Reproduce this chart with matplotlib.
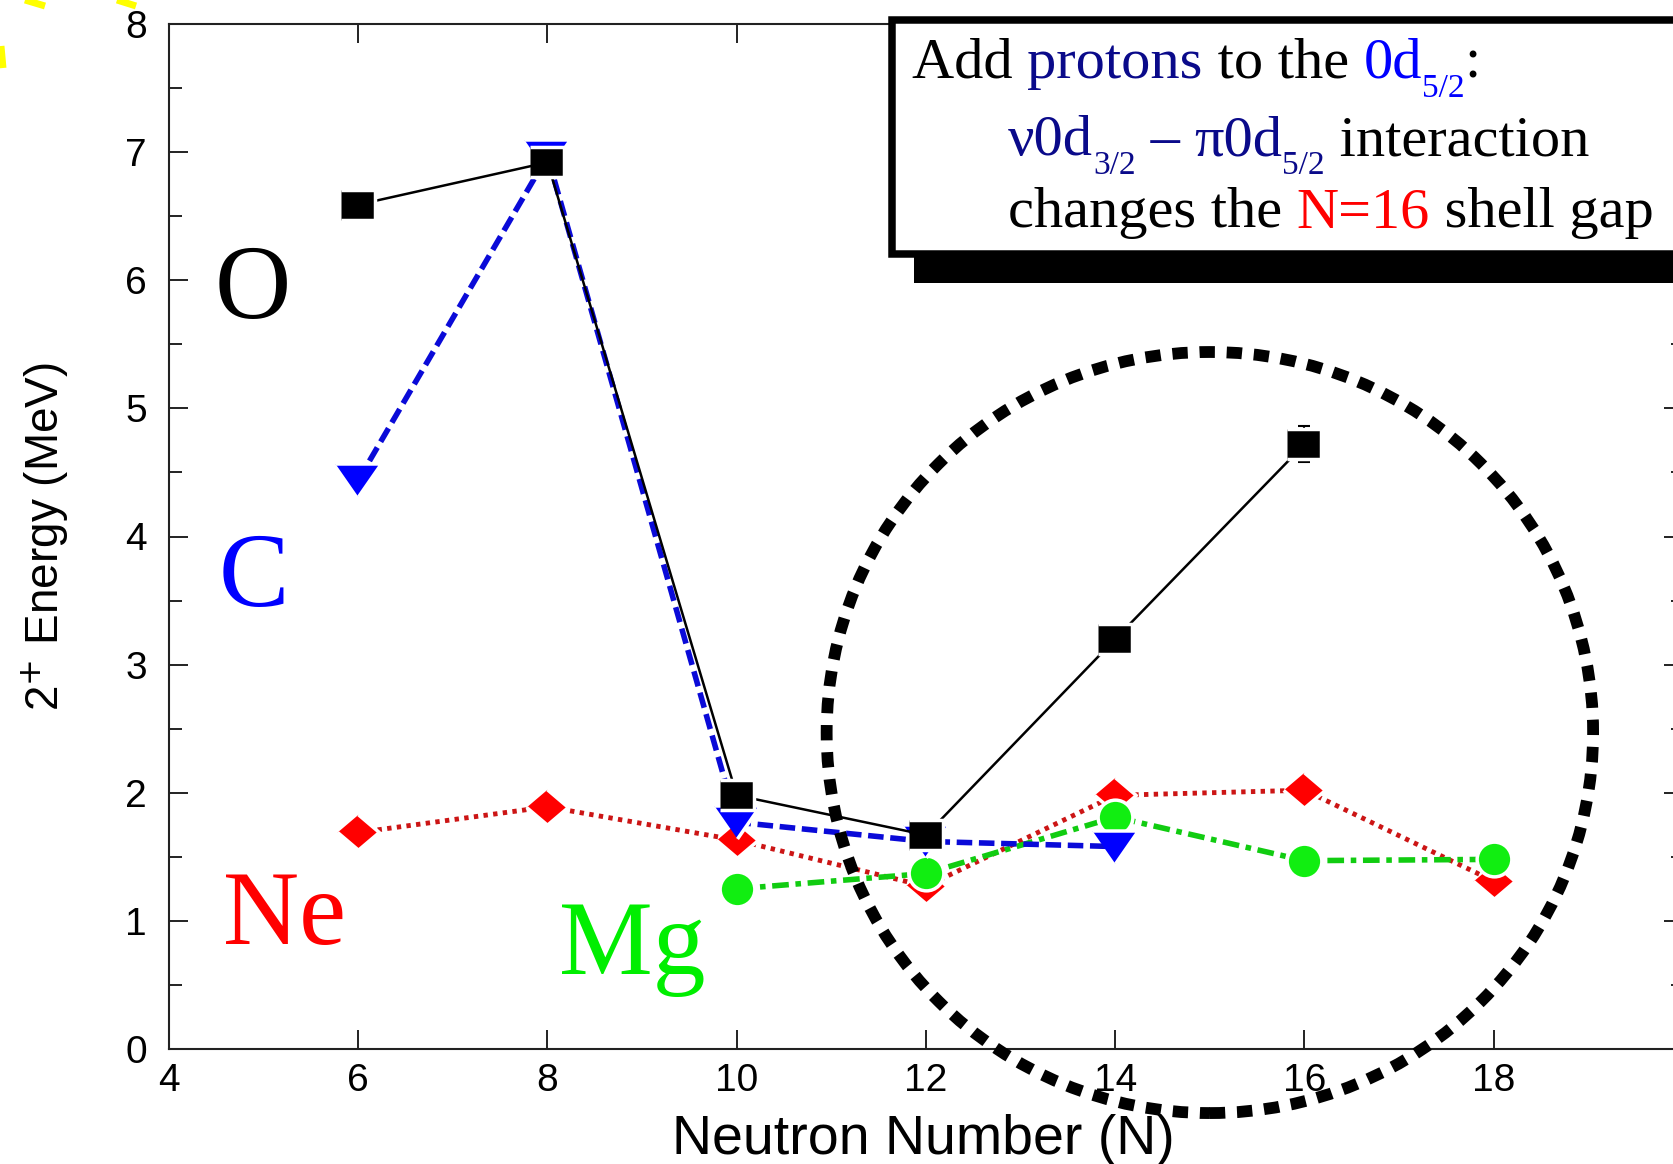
import matplotlib.pyplot as plt
from matplotlib.patches import Ellipse, Rectangle
from matplotlib.lines import Line2D
import numpy as np

# ---- data (2+ energies, MeV) ----
o_N = [6, 8, 10, 12, 14, 16]
o_E = [6.59, 6.92, 1.98, 1.67, 3.20, 4.72]
o_err = [0, 0, 0, 0, 0, 0.14]

c_N = [6, 8, 10, 12, 14]
c_E = [4.44, 6.97, 1.77, 1.62, 1.58]

ne_N = [6, 8, 10, 12, 14, 16, 18]
ne_E = [1.69, 1.89, 1.63, 1.27, 1.98, 2.02, 1.31]

mg_N = [10, 12, 14, 16, 18]
mg_E = [1.25, 1.37, 1.81, 1.47, 1.48]

x_ticks = [4, 6, 8, 10, 12, 14, 16, 18]
y_ticks = [0, 1, 2, 3, 4, 5, 6, 7, 8]

W, H = 1674, 1164
fig = plt.figure(figsize=(W / 100, H / 100), dpi=100)
ax = fig.add_axes([169 / W, 1 - 1049 / H, (1683 - 169) / W, (1049 - 24) / H])


def fx(x):
    return x / W


def fy(y):
    return 1 - y / H


# markers (vertex lists)
tri = [(-1, 0.72), (1, 0.72), (0, -0.72)]
dia = [(0, 0.85), (1, 0), (0, -0.85), (-1, 0)]
sq = [(-1, -0.85), (1, -0.85), (1, 0.85), (-1, 0.85)]

ax.plot(ne_N, ne_E, color='#cc1515', lw=3.5, ls=(0, (0.9, 1.1)), marker=dia, ms=30,
        mfc='#ff0000', mec='white', mew=2.5, zorder=2)
ax.plot(mg_N, mg_E, color='#11cc11', lw=4, ls=(0, (3, 1.2, 1, 1.2)), marker='o', ms=25,
        mfc='#11ee11', mec='white', mew=2.5, zorder=3)
ax.plot(c_N, c_E, color='#0a0ad8', lw=4, ls=(0, (2.8, 1.2)), marker=tri, ms=33,
        mfc='#0000ff', mec='white', mew=2.5, zorder=4)

# O with error bar on last point
err_idx = [i for i, e in enumerate(o_err) if e > 0]
ax.errorbar([o_N[i] for i in err_idx], [o_E[i] for i in err_idx],
            yerr=[o_err[i] for i in err_idx], fmt='none', ecolor='black',
            elinewidth=1.5, capsize=4.5, capthick=1.5, zorder=5)
ax.plot(o_N, o_E, color='black', lw=1.8, marker=sq, ms=25,
        mfc='black', mec='white', mew=2.5, zorder=6)

ax.set_xlim(4, 20)
ax.set_ylim(0, 8)
ax.set_xticks(x_ticks)
ax.set_yticks(y_ticks)
ax.set_yticks(np.arange(0.5, 8, 1.0), minor=True)
ax.tick_params(which='both', direction='in', top=True, right=True, width=1.4, color='#222222')
ax.tick_params(which='major', length=14)
ax.tick_params(which='minor', length=9)
ax.tick_params(axis='y', pad=16)
ax.tick_params(axis='x', pad=10)
for lab in ax.get_xticklabels() + ax.get_yticklabels():
    lab.set_fontfamily('Liberation Sans')
    lab.set_fontsize(28)
for sp in ax.spines.values():
    sp.set_linewidth(1.5)
    sp.set_color('#222222')

plt.rcParams['mathtext.fontset'] = 'custom'
plt.rcParams['mathtext.rm'] = 'Liberation Sans'
plt.rcParams['mathtext.it'] = 'Liberation Sans'
ax.set_xlabel('Neutron Number (N)', fontfamily='Liberation Sans', fontsize=40, va='baseline')
ax.xaxis.set_label_coords((923 - 169) / 1514, (1049 - 1154) / 1025)
ax.set_ylabel(r'2$^{+}$ Energy (MeV)', fontfamily='Liberation Sans', fontsize=33, va='center')
ax.yaxis.set_label_coords((45 - 169) / 1514, (1049 - 537) / 1025)

# dashed circle around the N=16 region
ax.add_patch(Ellipse((15.0, 2.47), 8.1, 5.94, fill=False, ec='black', lw=8.5,
                     ls=(0, (1.3, 1.0)), clip_on=False, zorder=10))

# big element labels
serif = 'Liberation Serif'
fig.text(fx(215), fy(318), 'O', color='black', fontsize=76, family=serif, va='baseline')
fig.text(fx(219), fy(606), 'C', color='#0000ff', fontsize=76, family=serif, va='baseline')
fig.text(fx(223), fy(944), 'Ne', color='#ff0000', fontsize=76, family=serif, va='baseline')
fig.text(fx(559), fy(974), 'Mg', color='#00ee00', fontsize=76, family=serif, va='baseline')

# text box with shadow
fig.add_artist(Rectangle((fx(914), fy(283)), fx(1720 - 914), (283 - 40) / H,
                         transform=fig.transFigure, fc='black', ec='none', zorder=4))
fig.add_artist(Rectangle((fx(892), fy(254)), fx(1720 - 892), (254 - 20) / H,
                         transform=fig.transFigure, fc='white', ec='black', lw=5.4, zorder=5))

renderer = fig.canvas.get_renderer()


def advance(s, size):
    t1 = fig.text(0, 0, s + '|', fontsize=size, family=serif)
    t2 = fig.text(0, 0, '|', fontsize=size, family=serif)
    w = t1.get_window_extent(renderer).width - t2.get_window_extent(renderer).width
    t1.remove()
    t2.remove()
    return w


def rich_line(x0, base, pieces):
    x = x0
    for s, col, sub in pieces:
        size = 24 if sub else 42
        y = base + (19 if sub else 0)
        fig.text(fx(x), fy(y), s, color=col, fontsize=size, family=serif,
                 va='baseline', zorder=6)
        x += advance(s, size)


navy = '#0a0a8a'
blue = '#0000ff'
red = '#ff0000'
rich_line(912, 78, [('Add ', 'black', False), ('protons', navy, False),
                    (' to the ', 'black', False), ('0d', blue, False),
                    ('5/2', blue, True), (':', 'black', False)])
rich_line(1008, 155, [('ν0d', navy, False), ('3/2', navy, True), (' – ', navy, False),
                      ('π0d', navy, False), ('5/2', navy, True),
                      (' interaction', 'black', False)])
rich_line(1008, 227, [('changes the ', 'black', False), ('N=16', red, False),
                      (' shell gap', 'black', False)])

# yellow fragments at the top-left corner
for xs, ys in [((25, 45), (0, 6)), ((117, 136), (0, 6)), ((1, 3), (46, 68))]:
    fig.add_artist(Line2D([fx(xs[0]), fx(xs[1])], [fy(ys[0]), fy(ys[1])],
                          transform=fig.transFigure, color='#ffff00', lw=5,
                          solid_capstyle='butt', zorder=7))

fig.savefig('out.png', dpi=100)
